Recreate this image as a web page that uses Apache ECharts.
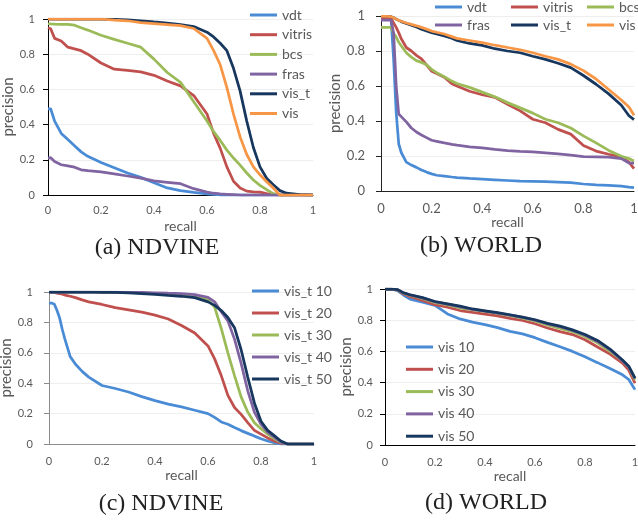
<!DOCTYPE html>
<html>
<head>
<meta charset="utf-8">
<script src="https://cdn.jsdelivr.net/npm/echarts@6/dist/echarts.min.js"></script>
<style>
  html, body { margin: 0; padding: 0; background: #fff; }
  #main { width: 638px; height: 520px; }
</style>
</head>
<body>
<div id="main"></div>
<script>
// (a) NDVINE
var recallA = [0, 0.01, 0.025, 0.05, 0.075, 0.1, 0.125, 0.15, 0.2, 0.25, 0.3, 0.35, 0.4, 0.45, 0.5, 0.55, 0.6, 0.625, 0.65, 0.675, 0.7, 0.725, 0.75, 0.775, 0.8, 0.825, 0.85, 0.875, 0.9, 0.95, 1];
var vdtA = [0.49, 0.49, 0.42, 0.35, 0.315, 0.28, 0.245, 0.22, 0.185, 0.155, 0.125, 0.1, 0.07, 0.04, 0.025, 0.015, 0.006, 0.003, 0, 0, 0, 0, 0, 0, 0, 0, 0, 0, 0, 0, 0];
var vitrisA = [0.95, 0.945, 0.89, 0.875, 0.84, 0.83, 0.82, 0.80, 0.75, 0.715, 0.708, 0.70, 0.68, 0.648, 0.62, 0.565, 0.46, 0.35, 0.265, 0.16, 0.078, 0.04, 0.022, 0.018, 0.016, 0.008, 0.002, 0, 0, 0, 0];
var bcsA = [0.973, 0.972, 0.971, 0.97, 0.969, 0.965, 0.95, 0.937, 0.908, 0.884, 0.862, 0.84, 0.772, 0.696, 0.64, 0.53, 0.42, 0.36, 0.31, 0.255, 0.21, 0.17, 0.125, 0.085, 0.055, 0.03, 0.008, 0, 0, 0, 0];
var frasA = [0.21, 0.212, 0.19, 0.172, 0.165, 0.158, 0.143, 0.138, 0.131, 0.12, 0.108, 0.096, 0.08, 0.072, 0.064, 0.036, 0.016, 0.01, 0.006, 0.004, 0.002, 0, 0, 0, 0, 0, 0, 0, 0, 0, 0];
var vistA = [1, 1, 1, 1, 1, 1, 1, 1, 0.999, 0.998, 0.995, 0.99, 0.983, 0.977, 0.968, 0.957, 0.925, 0.898, 0.862, 0.82, 0.72, 0.59, 0.42, 0.27, 0.16, 0.095, 0.058, 0.025, 0.01, 0.002, 0];
var visA = [1, 1, 1, 1, 1, 1, 1, 1, 1, 0.993, 0.99, 0.98, 0.974, 0.968, 0.962, 0.946, 0.89, 0.82, 0.74, 0.61, 0.46, 0.33, 0.23, 0.16, 0.115, 0.075, 0.04, 0, 0, 0, 0];

// (b) WORLD
var recallB = [0, 0.02, 0.04, 0.05, 0.06, 0.07, 0.08, 0.1, 0.12, 0.14, 0.16, 0.18, 0.2, 0.22, 0.25, 0.28, 0.3, 0.35, 0.4, 0.45, 0.5, 0.55, 0.6, 0.65, 0.7, 0.75, 0.8, 0.85, 0.9, 0.95, 0.98, 1];
var vdtB = [0.98, 0.98, 0.98, 0.75, 0.45, 0.27, 0.22, 0.165, 0.148, 0.135, 0.12, 0.108, 0.098, 0.09, 0.085, 0.08, 0.077, 0.072, 0.068, 0.064, 0.06, 0.056, 0.055, 0.053, 0.051, 0.048, 0.04, 0.035, 0.032, 0.028, 0.022, 0.019];
var vitrisB = [0.99, 0.99, 0.985, 0.96, 0.935, 0.905, 0.87, 0.82, 0.8, 0.775, 0.755, 0.72, 0.685, 0.672, 0.65, 0.613, 0.6, 0.57, 0.55, 0.535, 0.495, 0.458, 0.41, 0.39, 0.352, 0.325, 0.26, 0.228, 0.21, 0.195, 0.165, 0.128];
var bcsB = [0.935, 0.935, 0.935, 0.9, 0.88, 0.85, 0.83, 0.79, 0.765, 0.745, 0.735, 0.722, 0.695, 0.676, 0.653, 0.628, 0.614, 0.592, 0.565, 0.538, 0.505, 0.475, 0.445, 0.41, 0.39, 0.36, 0.315, 0.275, 0.232, 0.198, 0.185, 0.172];
var frasB = [0.977, 0.977, 0.977, 0.9, 0.6, 0.44, 0.425, 0.395, 0.36, 0.337, 0.32, 0.305, 0.29, 0.284, 0.275, 0.267, 0.262, 0.252, 0.247, 0.238, 0.231, 0.227, 0.224, 0.218, 0.212, 0.205, 0.196, 0.195, 0.194, 0.185, 0.16, 0.16];
var vistB = [0.998, 0.998, 0.996, 0.99, 0.982, 0.975, 0.968, 0.958, 0.948, 0.937, 0.925, 0.915, 0.905, 0.897, 0.886, 0.873, 0.86, 0.843, 0.832, 0.813, 0.8, 0.79, 0.77, 0.752, 0.73, 0.705, 0.66, 0.61, 0.555, 0.49, 0.43, 0.408];
var visB = [0.998, 0.998, 0.996, 0.99, 0.982, 0.976, 0.97, 0.96, 0.952, 0.944, 0.935, 0.925, 0.914, 0.907, 0.897, 0.882, 0.872, 0.86, 0.848, 0.833, 0.82, 0.807, 0.79, 0.77, 0.752, 0.725, 0.688, 0.64, 0.58, 0.52, 0.48, 0.433];

// (c) NDVINE, vis_t with k
var recallC = [0, 0.01, 0.02, 0.03, 0.04, 0.05, 0.06, 0.08, 0.1, 0.125, 0.15, 0.2, 0.25, 0.3, 0.35, 0.4, 0.45, 0.5, 0.55, 0.6, 0.625, 0.65, 0.675, 0.7, 0.725, 0.75, 0.775, 0.8, 0.825, 0.85, 0.875, 0.9, 0.95, 1];
var vist10C = [0.927, 0.927, 0.92, 0.88, 0.83, 0.755, 0.69, 0.575, 0.525, 0.478, 0.44, 0.385, 0.365, 0.342, 0.312, 0.285, 0.262, 0.244, 0.222, 0.2, 0.175, 0.145, 0.13, 0.108, 0.088, 0.07, 0.052, 0.035, 0.02, 0.008, 0, 0, 0, 0];
var vist20C = [1, 1, 0.997, 0.993, 0.99, 0.985, 0.98, 0.972, 0.963, 0.948, 0.935, 0.918, 0.897, 0.883, 0.868, 0.848, 0.822, 0.78, 0.73, 0.645, 0.56, 0.45, 0.32, 0.24, 0.195, 0.14, 0.09, 0.065, 0.04, 0.02, 0.005, 0, 0, 0];
var vist30C = [1, 1, 1, 1, 1, 1, 1, 1, 1, 1, 1, 0.999, 0.998, 0.997, 0.995, 0.99, 0.985, 0.978, 0.967, 0.948, 0.9, 0.76, 0.6, 0.45, 0.31, 0.21, 0.14, 0.1, 0.065, 0.035, 0.01, 0, 0, 0];
var vist40C = [1, 1, 1, 1, 1, 1, 1, 1, 1, 1, 1, 0.999, 0.999, 0.998, 0.997, 0.995, 0.992, 0.99, 0.983, 0.965, 0.935, 0.87, 0.81, 0.69, 0.53, 0.35, 0.21, 0.13, 0.078, 0.045, 0.012, 0, 0, 0];
var vist50C = [1, 1, 1, 1, 1, 1, 1, 1, 1, 1, 1, 0.998, 0.997, 0.995, 0.99, 0.985, 0.978, 0.972, 0.963, 0.935, 0.912, 0.878, 0.832, 0.765, 0.62, 0.44, 0.27, 0.15, 0.09, 0.055, 0.02, 0, 0, 0];

// (d) WORLD, vis with k
var recallD = [0, 0.025, 0.05, 0.075, 0.1, 0.15, 0.2, 0.25, 0.3, 0.35, 0.4, 0.45, 0.5, 0.55, 0.6, 0.65, 0.7, 0.75, 0.8, 0.85, 0.9, 0.95, 0.975, 1];
var vis10D = [1, 1, 0.99, 0.96, 0.935, 0.915, 0.895, 0.84, 0.808, 0.788, 0.772, 0.752, 0.728, 0.712, 0.688, 0.658, 0.63, 0.6, 0.565, 0.528, 0.49, 0.45, 0.42, 0.355];
var vis20D = [1, 1, 0.993, 0.968, 0.952, 0.926, 0.9, 0.883, 0.862, 0.85, 0.839, 0.828, 0.812, 0.798, 0.777, 0.75, 0.727, 0.708, 0.675, 0.628, 0.583, 0.525, 0.48, 0.396];
var vis30D = [1, 1, 0.995, 0.972, 0.96, 0.94, 0.912, 0.9, 0.878, 0.868, 0.856, 0.843, 0.83, 0.813, 0.795, 0.77, 0.748, 0.726, 0.695, 0.655, 0.6, 0.54, 0.5, 0.418];
var vis40D = [1, 1, 0.996, 0.974, 0.962, 0.943, 0.917, 0.903, 0.886, 0.87, 0.858, 0.846, 0.833, 0.818, 0.8, 0.777, 0.758, 0.734, 0.703, 0.664, 0.61, 0.54, 0.5, 0.425];
var vis50D = [1, 1, 0.996, 0.975, 0.963, 0.945, 0.92, 0.905, 0.89, 0.872, 0.86, 0.848, 0.835, 0.82, 0.803, 0.78, 0.762, 0.738, 0.708, 0.67, 0.615, 0.545, 0.505, 0.428];

var colors = ['#4A8BD6', '#C0504D', '#9BBB59', '#8064A2', '#17375E', '#F79646'];
var textColor = '#595959';
var font = 'Lato';

var chart = echarts.init(document.getElementById('main'), null, { renderer: 'canvas' });

function zip(xs, ys) {
  var out = [];
  for (var i = 0; i < xs.length; i++) {
    out.push([xs[i], ys[i]]);
  }
  return out;
}

function makeX(gi, margin, size, lineColor) {
  return {
    type: 'value', gridIndex: gi, min: 0, max: 1, interval: 0.2,
    name: 'recall', nameLocation: 'middle', nameGap: 24,
    nameTextStyle: { color: textColor, fontFamily: font, fontSize: 14 },
    axisLine: { show: true, lineStyle: { color: lineColor, width: 1 } },
    axisTick: { show: false },
    splitLine: { show: false },
    axisLabel: { margin: margin, color: textColor, fontFamily: font, fontSize: size }
  };
}

function makeY(gi, margin, size, lineColor, nameGap) {
  return {
    type: 'value', gridIndex: gi, min: 0, max: 1, interval: 0.2,
    name: 'precision', nameLocation: 'middle', nameGap: nameGap,
    nameTextStyle: { color: textColor, fontFamily: font, fontSize: 15 },
    axisLine: { show: true, lineStyle: { color: lineColor, width: 1 } },
    axisTick: { show: true, length: 5, lineStyle: { color: lineColor } },
    splitLine: { show: true, lineStyle: { color: '#EEEEEE', width: 1 } },
    axisLabel: { margin: margin, color: textColor, fontFamily: font, fontSize: size }
  };
}

function makeLine(name, gi, xs, ys, color) {
  return {
    name: name, type: 'line', xAxisIndex: gi, yAxisIndex: gi,
    data: zip(xs, ys), symbol: 'none', showSymbol: false,
    lineStyle: { color: color, width: 2.75 },
    itemStyle: { color: color },
    emphasis: { disabled: true }
  };
}

function makeLegend(names, left, top, gap, extra) {
  var lg = {
    data: names, left: left, top: top, orient: 'vertical', padding: 0,
    icon: 'rect', itemWidth: 27, itemHeight: 3, itemGap: gap,
    textStyle: { color: textColor, fontFamily: font, fontSize: 14, lineHeight: 14 }
  };
  for (var k in extra) lg[k] = extra[k];
  return lg;
}

var namesAB = ['vdt', 'vitris', 'bcs', 'fras', 'vis_t', 'vis'];
var namesC = ['vis_t 10', 'vis_t 20', 'vis_t 30', 'vis_t 40', 'vis_t 50'];
var namesD = ['vis 10', 'vis 20', 'vis 30', 'vis 40', 'vis 50'];
var colorsK = [colors[0], colors[1], colors[2], colors[3], colors[4]];

var seriesList = [];
var dataA = [vdtA, vitrisA, bcsA, frasA, vistA, visA];
var dataB = [vdtB, vitrisB, bcsB, frasB, vistB, visB];
var dataC = [vist10C, vist20C, vist30C, vist40C, vist50C];
var dataD = [vis10D, vis20D, vis30D, vis40D, vis50D];
for (var i = 0; i < namesAB.length; i++) {
  seriesList.push(makeLine(namesAB[i], 0, recallA, dataA[i], colors[i]));
}
for (var i = 0; i < namesAB.length; i++) {
  seriesList.push(makeLine(namesAB[i], 1, recallB, dataB[i], colors[i]));
}
for (var i = 0; i < namesC.length; i++) {
  seriesList.push(makeLine(namesC[i], 2, recallC, dataC[i], colorsK[i]));
}
for (var i = 0; i < namesD.length; i++) {
  seriesList.push(makeLine(namesD[i], 3, recallD, dataD[i], colorsK[i]));
}

// captions under each panel, centred on (x, y)
function caption(text, x, y) {
  return {
    type: 'text', x: x, y: y,
    style: {
      text: text, fill: '#222',
      font: '24px "Liberation Serif"',
      align: 'center', verticalAlign: 'middle'
    }
  };
}

var option = {
  animation: false,
  backgroundColor: '#fff',
  grid: [
    { left: 48, top: 19, width: 265, height: 176, outerBoundsMode: 'none' },
    { left: 381, top: 16, width: 253, height: 175, outerBoundsMode: 'none' },
    { left: 49, top: 292, width: 265, height: 152, outerBoundsMode: 'none' },
    { left: 385, top: 289, width: 250, height: 156, outerBoundsMode: 'none' }
  ],
  xAxis: [
    makeX(0, 10, 11, '#000'),
    makeX(1, 11, 13, '#222'),
    makeX(2, 12, 11, '#8c8c8c'),
    makeX(3, 12, 11, '#000')
  ],
  yAxis: [
    makeY(0, 13, 11, '#000', 27),
    makeY(1, 16, 13, '#222', 33),
    makeY(2, 16, 11, '#8c8c8c', 30),
    makeY(3, 12, 11, '#000', 28)
  ],
  legend: [
    makeLegend(namesAB, 250, 8, 5.7, {}),
    makeLegend(namesAB, 435, 0, 4, { orient: 'horizontal', width: 230, textStyle: { color: textColor, fontFamily: font, fontSize: 14, lineHeight: 14, width: 40 } }),
    makeLegend(namesC, 252, 284, 8, {}),
    makeLegend(namesD, 406, 340, 8.3, {})
  ],
  graphic: [
    caption('(a) NDVINE', 157, 248),
    caption('(b) WORLD', 481, 246),
    caption('(c) NDVINE', 161, 504),
    caption('(d) WORLD', 486, 503)
  ],
  series: seriesList
};

chart.setOption(option);
</script>
</body>
</html>
